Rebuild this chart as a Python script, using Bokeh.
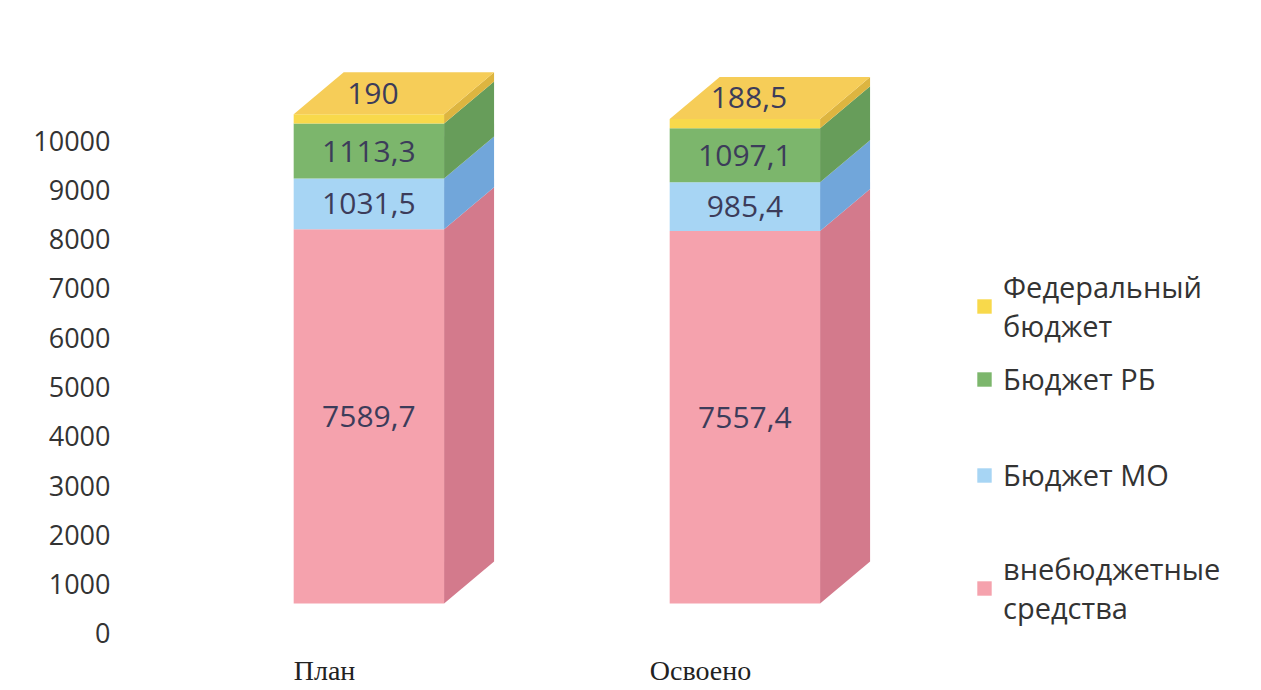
from bokeh.plotting import figure
from bokeh.models import Range1d, FixedTicker, Legend, LegendItem, ColumnDataSource
from bokeh.core.properties import value
from bokeh.embed import file_html
from bokeh.resources import INLINE

# ---- data ----
categories = ["План", "Освоено"]
series_names = ["внебюджетные\nсредства", "Бюджет МО", "Бюджет РБ", "Федеральный\nбюджет"]
vnebudget = [7589.7, 7557.4]
budget_mo = [1031.5, 985.4]
budget_rb = [1113.3, 1097.1]
federal = [190.0, 188.5]
y_ticks = list(range(0, 10001, 1000))

series_values = [vnebudget, budget_mo, budget_rb, federal]

# ---- style ----
front_colors = ["#F5A2AD", "#A7D5F4", "#7CB66C", "#F8D94B"]
side_colors = ["#D37A8C", "#71A6DA", "#679D5A", "#DDB540"]
top_color = "#F6CD58"
label_color = "#3C3C5A"
SANS = "Open Sans"

X_OFF = 0.118   # bar front centre offset from category tick
BAR_W = 0.40    # front face width
DX = 0.133      # 3D depth, x
DY = 852        # 3D depth, y (value units)
FLOOR = 608     # 3D floor lift (value units)

p = figure(width=1256, height=688, output_backend="svg", toolbar_location=None,
           x_range=Range1d(-0.5426, 2.4787), y_range=Range1d(-142, 12840),
           min_border_left=120, min_border_right=0, min_border_top=0, min_border_bottom=48)
p.background_fill_color = "white"
p.border_fill_color = "white"
p.outline_line_color = None
p.grid.visible = False

xs = [i + X_OFF for i in range(len(categories))]
bottoms = [FLOOR] * len(categories)
front_renderers = []
for k, vals in enumerate(series_values):
    tops = [b + v for b, v in zip(bottoms, vals)]
    # side faces
    side_xs = [[x + BAR_W / 2, x + BAR_W / 2 + DX, x + BAR_W / 2 + DX, x + BAR_W / 2] for x in xs]
    side_ys = [[b, b + DY, t + DY, t] for b, t in zip(bottoms, tops)]
    p.patches(xs=side_xs, ys=side_ys, fill_color=side_colors[k], line_color=None)
    src = ColumnDataSource(dict(x=xs, bottom=bottoms, top=tops))
    r = p.vbar(x="x", bottom="bottom", top="top", width=BAR_W, source=src,
               fill_color=front_colors[k], line_color=None)
    front_renderers.append(r)
    labels = [f"{v:g}".replace(".", ",") for v in vals]
    if k == len(series_values) - 1:
        # top face
        top_xs = [[x - BAR_W / 2, x + BAR_W / 2, x + BAR_W / 2 + DX, x - BAR_W / 2 + DX] for x in xs]
        top_ys = [[t, t, t + DY, t + DY] for t in tops]
        p.patches(xs=top_xs, ys=top_ys, fill_color=top_color, line_color=None)
        lx = [x + DX * 0.08 for x in xs]
        ly = [t + DY * 0.5 for t in tops]
    else:
        lx = xs
        ly = [(b + t) / 2 for b, t in zip(bottoms, tops)]
    p.text(x=lx, y=ly, text=labels, text_align="center", text_baseline="middle",
           text_font=value(SANS), text_font_size="30px", text_color=label_color)
    bottoms = tops

# axes
p.yaxis.ticker = FixedTicker(ticks=y_ticks)
p.yaxis.axis_line_color = None
p.yaxis.major_tick_line_color = None
p.yaxis.minor_tick_line_color = None
p.yaxis.major_tick_out = 0
p.yaxis.major_label_standoff = 10
p.yaxis.major_label_text_font = SANS
p.yaxis.major_label_text_font_size = "27px"
p.yaxis.major_label_text_color = "#333333"

p.xaxis.ticker = FixedTicker(ticks=list(range(len(categories))))
p.xaxis.major_label_overrides = {i: c for i, c in enumerate(categories)}
p.xaxis.axis_line_color = None
p.xaxis.major_tick_line_color = None
p.xaxis.minor_tick_line_color = None
p.xaxis.major_tick_out = 0
p.xaxis.major_label_standoff = 14
p.xaxis.major_label_text_font = "Liberation Serif"
p.xaxis.major_label_text_font_size = "28px"
p.xaxis.major_label_text_color = "#222222"

# legend: one block per entry, placed like the original
legend_pos = {3: (855, 295), 2: (855, 242), 1: (855, 146), 0: (855, 13)}
for k in [3, 2, 1, 0]:
    lg = Legend(items=[LegendItem(label=series_names[k], renderers=[front_renderers[k]])],
                location=legend_pos[k], orientation="vertical",
                glyph_width=18, glyph_height=18, label_standoff=10,
                padding=0, margin=0, border_line_color=None, background_fill_alpha=0,
                label_text_font=SANS, label_text_font_size="29px", label_text_color="#333333")
    p.add_layout(lg, "center")

open("out.html", "w").write(file_html(p, INLINE))
